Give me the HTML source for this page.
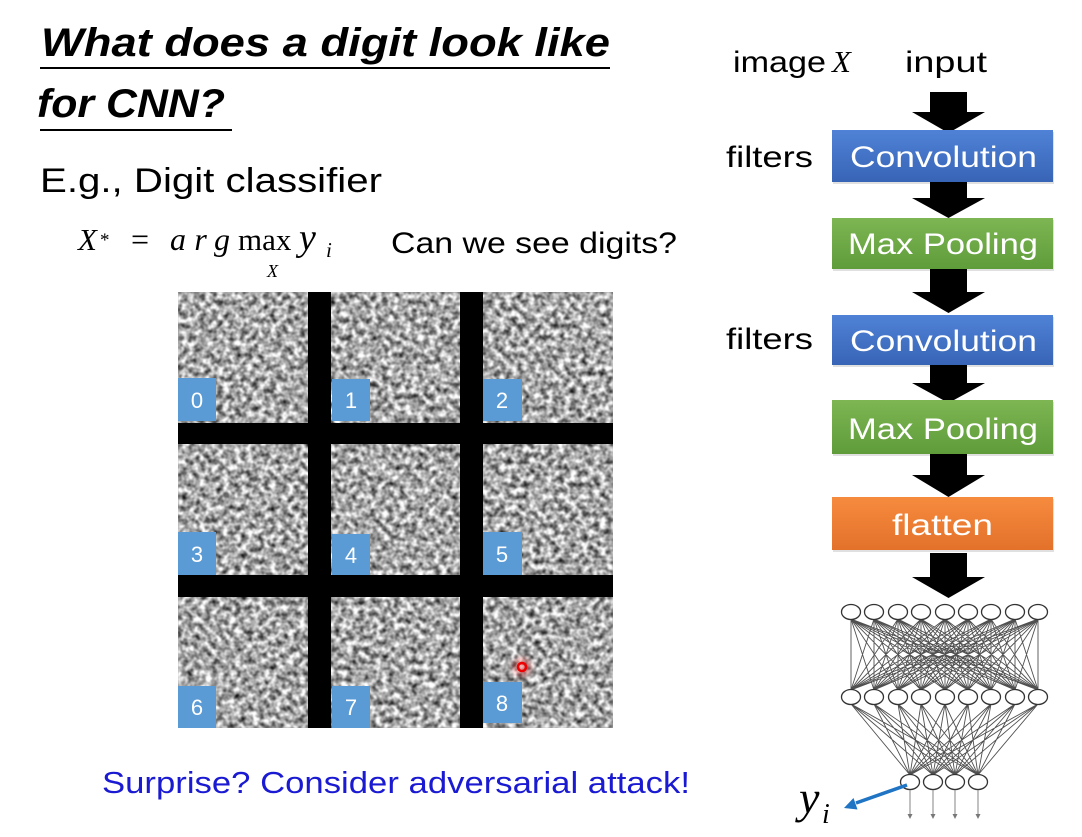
<!DOCTYPE html>
<html>
<head>
<meta charset="utf-8">
<style>
html,body{margin:0;padding:0;background:#fff;}
svg{display:block;}
</style>
</head>
<body>
<svg width="1082" height="837" viewBox="0 0 1082 837" xmlns="http://www.w3.org/2000/svg">
<defs>
  <filter id="noise" x="178" y="292" width="435" height="436" filterUnits="userSpaceOnUse" color-interpolation-filters="sRGB">
    <feTurbulence type="fractalNoise" baseFrequency="0.17" numOctaves="2" seed="7" result="t"/>
    <feColorMatrix in="t" type="matrix" values="1.55 0 0 0 -0.12  1.55 0 0 0 -0.12  1.55 0 0 0 -0.12  0 0 0 0 1" result="c"/>
    <feGaussianBlur in="c" stdDeviation="0.6"/>
  </filter>
  <filter id="blur3" x="-1" y="-1" width="3" height="3"><feGaussianBlur stdDeviation="3"/></filter>
  <linearGradient id="gBlue" x1="0" y1="0" x2="0" y2="1">
    <stop offset="0" stop-color="#4f82d6"/><stop offset="1" stop-color="#3864b6"/>
  </linearGradient>
  <linearGradient id="gGreen" x1="0" y1="0" x2="0" y2="1">
    <stop offset="0" stop-color="#7db653"/><stop offset="1" stop-color="#5f9c3a"/>
  </linearGradient>
  <linearGradient id="gOrange" x1="0" y1="0" x2="0" y2="1">
    <stop offset="0" stop-color="#f68b3e"/><stop offset="1" stop-color="#e3712a"/>
  </linearGradient>
</defs>

<!-- Title -->
<g font-family="Liberation Sans, sans-serif" fill="#000">
  <text x="41" y="56" font-size="40" font-weight="bold" font-style="italic" textLength="569" lengthAdjust="spacingAndGlyphs">What does a digit look like</text>
  <rect x="40" y="67" width="570" height="2"/>
  <text x="37" y="117" font-size="40" font-weight="bold" font-style="italic" textLength="188" lengthAdjust="spacingAndGlyphs">for CNN?</text>
  <rect x="40" y="129" width="192" height="2"/>
  <text x="40" y="192" font-size="34" textLength="342" lengthAdjust="spacingAndGlyphs">E.g., Digit classifier</text>
  <text x="391" y="253" font-size="30" textLength="286" lengthAdjust="spacingAndGlyphs">Can we see digits?</text>
</g>

<!-- Formula -->
<g font-family="Liberation Serif, serif" fill="#000">
  <text x="78" y="250" font-size="31" font-style="italic">X</text>
  <text x="100" y="246" font-size="19">*</text>
  <text x="131" y="250" font-size="32">=</text>
  <text x="170" y="250" font-size="32" font-style="italic" textLength="60" lengthAdjust="spacing">arg</text>
  <text x="238" y="250" font-size="31">max</text>
  <text x="267" y="277" font-size="18" font-style="italic">X</text>
  <text x="299" y="250" font-size="38" font-style="italic">y</text>
  <text x="326" y="257" font-size="21" font-style="italic">i</text>
</g>

<!-- Noise image -->
<rect x="178" y="292" width="435" height="436" fill="#a6a6a6"/>
<rect x="178" y="292" width="435" height="436" filter="url(#noise)"/>
<g fill="#000">
  <rect x="308" y="292" width="23" height="436"/>
  <rect x="460" y="292" width="23" height="436"/>
  <rect x="178" y="423" width="435" height="21"/>
  <rect x="178" y="575" width="435" height="22"/>
</g>
<g fill="#5b9bd5">
  <rect x="178" y="378" width="38" height="43"/>
  <rect x="332" y="379" width="38" height="42"/>
  <rect x="483" y="379" width="39" height="42"/>
  <rect x="178" y="532" width="38" height="43"/>
  <rect x="332" y="534" width="38" height="41"/>
  <rect x="483" y="532" width="39" height="43"/>
  <rect x="178" y="686" width="38" height="42"/>
  <rect x="332" y="686" width="38" height="42"/>
  <rect x="483" y="682" width="39" height="41"/>
</g>
<g font-family="Liberation Sans, sans-serif" font-size="22" fill="#fff" text-anchor="middle">
  <text x="197" y="408">0</text>
  <text x="351" y="408">1</text>
  <text x="502" y="408">2</text>
  <text x="197" y="562">3</text>
  <text x="351" y="563">4</text>
  <text x="502" y="562">5</text>
  <text x="197" y="715">6</text>
  <text x="351" y="715">7</text>
  <text x="502" y="711">8</text>
</g>
<circle cx="522" cy="667" r="9" fill="#ff4040" opacity="0.4" filter="url(#blur3)"/>
<circle cx="522" cy="667" r="4" fill="none" stroke="#ee0000" stroke-width="2.5"/>

<!-- Bottom text -->
<text x="102" y="793" font-family="Liberation Sans, sans-serif" font-size="31" fill="#1a1ad2" textLength="588" lengthAdjust="spacingAndGlyphs">Surprise? Consider adversarial attack!</text>

<!-- Right labels -->
<g font-family="Liberation Sans, sans-serif" font-size="30" fill="#000">
  <text x="733" y="72" textLength="93" lengthAdjust="spacingAndGlyphs">image</text>
  <text x="905" y="72" textLength="82" lengthAdjust="spacingAndGlyphs">input</text>
  <text x="726" y="167" textLength="87" lengthAdjust="spacingAndGlyphs">filters</text>
  <text x="726" y="349" textLength="87" lengthAdjust="spacingAndGlyphs">filters</text>
</g>
<text x="832" y="72" font-family="Liberation Serif, serif" font-style="italic" font-size="31" fill="#000">X</text>

<!-- Block arrows -->
<g fill="#000">
  <polygon points="930,92 967,92 967,112 985,112 948.5,133 912,112 930,112"/>
  <polygon points="930,182 967,182 967,198 985,198 948.5,218 912,198 930,198"/>
  <polygon points="930,269 967,269 967,292 985,292 948.5,313 912,292 930,292"/>
  <polygon points="930,365 967,365 967,383 985,383 948.5,403 912,383 930,383"/>
  <polygon points="930,454 967,454 967,475 985,475 948.5,497 912,475 930,475"/>
  <polygon points="930,553 967,553 967,577 985,577 948.5,598 912,577 930,577"/>
</g>

<!-- Boxes -->
<g>
  <rect x="833" y="132" width="221" height="52" fill="#000" opacity="0.12"/>
  <rect x="832" y="130" width="221" height="52" fill="url(#gBlue)"/>
  <rect x="833" y="220" width="221" height="51" fill="#000" opacity="0.12"/>
  <rect x="832" y="218" width="221" height="51" fill="url(#gGreen)"/>
  <rect x="833" y="317" width="221" height="50" fill="#000" opacity="0.12"/>
  <rect x="832" y="315" width="221" height="50" fill="url(#gBlue)"/>
  <rect x="833" y="402" width="221" height="54" fill="#000" opacity="0.12"/>
  <rect x="832" y="400" width="221" height="54" fill="url(#gGreen)"/>
  <rect x="833" y="499" width="221" height="53" fill="#000" opacity="0.12"/>
  <rect x="832" y="497" width="221" height="53" fill="url(#gOrange)"/>
</g>
<g font-family="Liberation Sans, sans-serif" font-size="30" fill="#fff">
  <text x="850" y="167" textLength="187" lengthAdjust="spacingAndGlyphs">Convolution</text>
  <text x="848" y="254" textLength="190" lengthAdjust="spacingAndGlyphs">Max Pooling</text>
  <text x="850" y="351" textLength="187" lengthAdjust="spacingAndGlyphs">Convolution</text>
  <text x="848" y="439" textLength="190" lengthAdjust="spacingAndGlyphs">Max Pooling</text>
  <text x="892" y="535" textLength="101" lengthAdjust="spacingAndGlyphs">flatten</text>
</g>

<!-- Neural network connections -->
<path fill="none" stroke="#505050" stroke-width="0.9" d="
M851 619L851 690M851 619L874 690M851 619L898 690M851 619L921 690M851 619L945 690M851 619L968 690M851 619L991 690M851 619L1015 690M851 619L1038 690
M874 619L851 690M874 619L874 690M874 619L898 690M874 619L921 690M874 619L945 690M874 619L968 690M874 619L991 690M874 619L1015 690M874 619L1038 690
M898 619L851 690M898 619L874 690M898 619L898 690M898 619L921 690M898 619L945 690M898 619L968 690M898 619L991 690M898 619L1015 690M898 619L1038 690
M921 619L851 690M921 619L874 690M921 619L898 690M921 619L921 690M921 619L945 690M921 619L968 690M921 619L991 690M921 619L1015 690M921 619L1038 690
M945 619L851 690M945 619L874 690M945 619L898 690M945 619L921 690M945 619L945 690M945 619L968 690M945 619L991 690M945 619L1015 690M945 619L1038 690
M968 619L851 690M968 619L874 690M968 619L898 690M968 619L921 690M968 619L945 690M968 619L968 690M968 619L991 690M968 619L1015 690M968 619L1038 690
M991 619L851 690M991 619L874 690M991 619L898 690M991 619L921 690M991 619L945 690M991 619L968 690M991 619L991 690M991 619L1015 690M991 619L1038 690
M1015 619L851 690M1015 619L874 690M1015 619L898 690M1015 619L921 690M1015 619L945 690M1015 619L968 690M1015 619L991 690M1015 619L1015 690M1015 619L1038 690
M1038 619L851 690M1038 619L874 690M1038 619L898 690M1038 619L921 690M1038 619L945 690M1038 619L968 690M1038 619L991 690M1038 619L1015 690M1038 619L1038 690
M851 704L910 775M851 704L933 775M851 704L955 775M851 704L978 775
M874 704L910 775M874 704L933 775M874 704L955 775M874 704L978 775
M898 704L910 775M898 704L933 775M898 704L955 775M898 704L978 775
M921 704L910 775M921 704L933 775M921 704L955 775M921 704L978 775
M945 704L910 775M945 704L933 775M945 704L955 775M945 704L978 775
M968 704L910 775M968 704L933 775M968 704L955 775M968 704L978 775
M991 704L910 775M991 704L933 775M991 704L955 775M991 704L978 775
M1015 704L910 775M1015 704L933 775M1015 704L955 775M1015 704L978 775
M1038 704L910 775M1038 704L933 775M1038 704L955 775M1038 704L978 775"/>
<path fill="none" stroke="#777" stroke-width="0.9" d="M910 789L910 815M933 789L933 815M955 789L955 815M978 789L978 815"/>
<g fill="#777">
  <polygon points="907.5,814 912.5,814 910,819"/>
  <polygon points="930.5,814 935.5,814 933,819"/>
  <polygon points="952.5,814 957.5,814 955,819"/>
  <polygon points="975.5,814 980.5,814 978,819"/>
</g>

<!-- Nodes -->
<g fill="#fff" stroke="#333" stroke-width="1.3">
  <ellipse cx="851" cy="612" rx="9.5" ry="7.5"/>
  <ellipse cx="874" cy="612" rx="9.5" ry="7.5"/>
  <ellipse cx="898" cy="612" rx="9.5" ry="7.5"/>
  <ellipse cx="921" cy="612" rx="9.5" ry="7.5"/>
  <ellipse cx="945" cy="612" rx="9.5" ry="7.5"/>
  <ellipse cx="968" cy="612" rx="9.5" ry="7.5"/>
  <ellipse cx="991" cy="612" rx="9.5" ry="7.5"/>
  <ellipse cx="1015" cy="612" rx="9.5" ry="7.5"/>
  <ellipse cx="1038" cy="612" rx="9.5" ry="7.5"/>
  <ellipse cx="851" cy="697" rx="9.5" ry="7.5"/>
  <ellipse cx="874" cy="697" rx="9.5" ry="7.5"/>
  <ellipse cx="898" cy="697" rx="9.5" ry="7.5"/>
  <ellipse cx="921" cy="697" rx="9.5" ry="7.5"/>
  <ellipse cx="945" cy="697" rx="9.5" ry="7.5"/>
  <ellipse cx="968" cy="697" rx="9.5" ry="7.5"/>
  <ellipse cx="991" cy="697" rx="9.5" ry="7.5"/>
  <ellipse cx="1015" cy="697" rx="9.5" ry="7.5"/>
  <ellipse cx="1038" cy="697" rx="9.5" ry="7.5"/>
  <ellipse cx="910" cy="782" rx="9.5" ry="7.5"/>
  <ellipse cx="933" cy="782" rx="9.5" ry="7.5"/>
  <ellipse cx="955" cy="782" rx="9.5" ry="7.5"/>
  <ellipse cx="978" cy="782" rx="9.5" ry="7.5"/>
</g>

<!-- Blue arrow to y_i -->
<line x1="907" y1="785" x2="856" y2="803" stroke="#1f74c4" stroke-width="3.5"/>
<polygon points="844,808 857.5,809.5 853.5,798" fill="#1f74c4"/>
<g font-family="Liberation Serif, serif" font-style="italic" fill="#000">
  <text x="799" y="813" font-size="46">y</text>
  <text x="822" y="823" font-size="28">i</text>
</g>
</svg>
</body>
</html>
